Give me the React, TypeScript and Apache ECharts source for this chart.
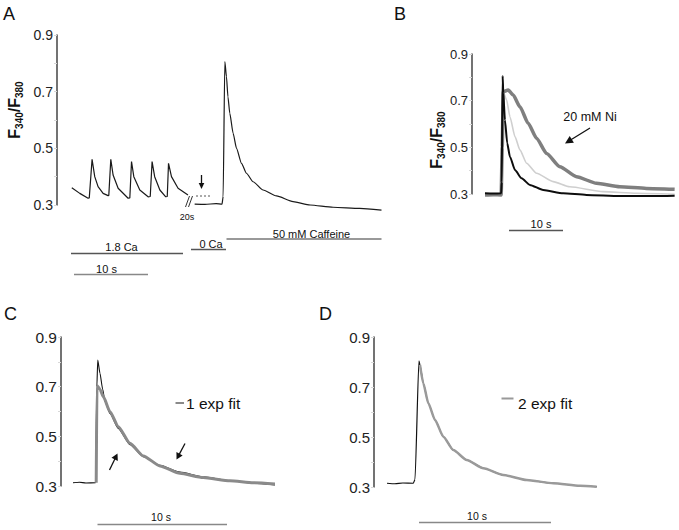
import React, { useEffect, useRef } from "react";
import * as echarts from "echarts";

// ---- Data (time in s, ratio F340/F380) ----
// Panel A: segment before break (1.8 Ca pacing) and after break (0 Ca + caffeine)
const aPacing: number[][] = [
  [0, 0.361], [1.08, 0.341], [2.2, 0.324], [2.36, 0.325], [2.74, 0.461], [3.1, 0.4], [3.55, 0.365],
  [4.23, 0.341], [4.9, 0.333], [5.0, 0.334], [5.27, 0.461], [5.58, 0.406], [6.26, 0.359], [7.61, 0.324],
  [7.84, 0.325], [8.07, 0.453], [8.38, 0.4], [9.19, 0.353], [10.31, 0.329], [10.6, 0.33], [10.85, 0.453],
  [11.2, 0.4], [11.9, 0.353], [12.7, 0.329], [12.9, 0.33], [13.07, 0.447], [13.47, 0.4], [14.36, 0.359],
  [15.7, 0.335],
];
const aCaffeine: number[][] = [
  [16.6, 0.303], [18.0, 0.302], [19.5, 0.305], [20.3, 0.303], [20.45, 0.33], [20.68, 0.806], [20.9, 0.753],
  [21.1, 0.682], [21.35, 0.624], [21.8, 0.553], [22.26, 0.5], [22.93, 0.447], [23.6, 0.412], [24.5, 0.382],
  [25.85, 0.353], [27.66, 0.332], [29.9, 0.312], [32.2, 0.3], [35.3, 0.292], [38.9, 0.288], [41.85, 0.282],
];
// Panel B
const bControl: number[][] = [
  [0, 0.303], [1.5, 0.302], [3.0, 0.303], [3.1, 0.35], [3.28, 0.806], [3.39, 0.732], [3.7, 0.617],
  [4.13, 0.517], [4.63, 0.46], [5.56, 0.403], [6.8, 0.367], [8.33, 0.339], [10.8, 0.317], [14.5, 0.303],
  [18.83, 0.296], [25, 0.291], [31.17, 0.291], [35.19, 0.293],
];
const bMid: number[][] = [
  [0, 0.298], [3.0, 0.298], [3.2, 0.5], [3.39, 0.738], [4.02, 0.703], [4.63, 0.631], [5.56, 0.546],
  [6.48, 0.489], [7.72, 0.432], [9.57, 0.389], [12.65, 0.353], [15.74, 0.331], [21.9, 0.31], [28.1, 0.303],
  [35.19, 0.299],
];
const bNi: number[][] = [
  [0, 0.296], [1.5, 0.297], [3.0, 0.296], [3.2, 0.5], [3.39, 0.738], [4.31, 0.746], [5.24, 0.724],
  [6.48, 0.674], [8.02, 0.603], [9.57, 0.539], [11.43, 0.474], [13.89, 0.417], [16.98, 0.374],
  [20.69, 0.346], [25, 0.331], [29.94, 0.324], [35.19, 0.32],
];
// Panel C
const cTrace: number[][] = [
  [0, 0.313], [0.5, 0.315], [1.0, 0.312], [1.75, 0.313], [1.85, 0.7], [1.92, 0.807], [2.09, 0.754],
  [2.3, 0.69], [2.48, 0.64], [2.87, 0.592], [3.51, 0.532], [4.42, 0.466], [5.45, 0.418], [6.74, 0.383],
  [8.29, 0.356], [10.1, 0.337], [12.17, 0.322], [13.98, 0.311], [15.66, 0.304],
];
const cFit1: number[][] = [
  [1.8, 0.313], [1.86, 0.705], [2.09, 0.69], [2.35, 0.66], [2.87, 0.599], [3.51, 0.539], [4.42, 0.472],
  [5.45, 0.421], [6.74, 0.381], [8.29, 0.351], [10.1, 0.334], [12.17, 0.321], [13.98, 0.313], [15.66, 0.308],
];
// Panel D
const dTrace: number[][] = [
  [0, 0.315], [0.6, 0.313], [1.2, 0.316], [1.99, 0.315], [2.12, 0.33], [2.42, 0.805], [2.5, 0.788],
  [2.75, 0.715], [3.13, 0.635], [3.64, 0.568], [4.27, 0.501], [5.02, 0.448], [6.04, 0.408], [7.3, 0.375],
  [8.81, 0.348], [10.58, 0.328], [12.6, 0.315], [14.62, 0.305], [15.89, 0.301],
];
const dFit2: number[][] = [
  [2.5, 0.788], [2.75, 0.715], [3.13, 0.635], [3.64, 0.568], [4.27, 0.501], [5.02, 0.448], [6.04, 0.408],
  [7.3, 0.375], [8.81, 0.348], [10.58, 0.328], [12.6, 0.315], [14.62, 0.305], [15.89, 0.301],
];
const yTickLabels = ["0.3", "0.5", "0.7", "0.9"];

const FONT = "Liberation Sans, Arial, Helvetica, sans-serif";

function arrow(x1: number, y1: number, x2: number, y2: number, hl: number, hw: number, lw: number, color: string) {
  const dx = x2 - x1, dy = y2 - y1;
  const L = Math.hypot(dx, dy);
  const ux = dx / L, uy = dy / L;
  const bx = x2 - ux * hl, by = y2 - uy * hl;
  const px = -uy * hw, py = ux * hw;
  return [
    { type: "line", shape: { x1, y1, x2: bx + ux * 1, y2: by + uy * 1 }, style: { stroke: color, lineWidth: lw } },
    { type: "polygon", shape: { points: [[x2, y2], [bx + px, by + py], [bx - px, by - py]] }, style: { fill: color } },
  ];
}
function hline(x1: number, x2: number, y: number, color: string, w: number) {
  return { type: "line", shape: { x1, y1: y, x2, y2: y }, style: { stroke: color, lineWidth: w } };
}
function txt(x: number, y: number, text: string, size: number, align = "center", extra: any = {}) {
  return {
    type: "text", x, y,
    style: { text, fontSize: size, fontFamily: FONT, fill: "#111", align, verticalAlign: "middle", ...extra },
  };
}
function yTitle(x: number, y: number) {
  return {
    type: "text", x, y, rotation: Math.PI / 2,
    style: {
      text: "{b|F}{s|340}{b|/F}{s|380}",
      align: "center", verticalAlign: "middle",
      rich: {
        b: { fontSize: 16, fontWeight: "bold", fontFamily: FONT, fill: "#111", lineHeight: 20 },
        s: { fontSize: 10, fontWeight: "bold", fontFamily: FONT, fill: "#111", lineHeight: 11, verticalAlign: "bottom" },
      },
    },
  };
}

function yAxis(gridIndex: number, fontSize: number) {
  return {
    type: "value", gridIndex, min: 0.3, max: 0.9, interval: 0.1,
    axisLine: { show: true, onZero: false, lineStyle: { color: "#444", width: 1.5 } },
    axisTick: { show: true, length: 3, lineStyle: { color: "#d8d8d8" } },
    splitLine: { show: false },
    axisLabel: {
      fontSize, fontFamily: FONT, color: "#222", margin: 4,
      formatter: (v: number) => {
        const s = v.toFixed(1);
        return yTickLabels.indexOf(s) >= 0 ? s : "";
      },
    },
  };
}
function xAxis(gridIndex: number, min: number, max: number) {
  return { type: "value", gridIndex, min, max, show: false };
}
function line(xi: number, data: number[][], color: string, width: number, z = 2, smooth: any = false) {
  return {
    type: "line", xAxisIndex: xi, yAxisIndex: xi, data, symbol: "none", showSymbol: false,
    clip: false, silent: true, z, smooth, smoothMonotone: "x",
    lineStyle: { color, width },
  };
}

export default function App() {
  const ref = useRef<HTMLDivElement>(null);
  useEffect(() => {
    if (!ref.current) return;
    const chart = echarts.init(ref.current, undefined, { renderer: "svg" });
    const graphic: any[] = [
      // panel letters
      { type: "text", x: 3, y: 5, style: { text: "A", fontSize: 18, fontFamily: FONT, fill: "#111" } },
      { type: "text", x: 394, y: 5, style: { text: "B", fontSize: 18, fontFamily: FONT, fill: "#111" } },
      { type: "text", x: 4, y: 305, style: { text: "C", fontSize: 18, fontFamily: FONT, fill: "#111" } },
      { type: "text", x: 319, y: 305, style: { text: "D", fontSize: 18, fontFamily: FONT, fill: "#111" } },
      yTitle(14, 110),
      yTitle(436, 140),
      // panel A annotations
      { type: "line", shape: { x1: 185.5, y1: 207, x2: 189.5, y2: 196 }, style: { stroke: "#333", lineWidth: 1 } },
      { type: "line", shape: { x1: 188.5, y1: 207, x2: 192.5, y2: 196 }, style: { stroke: "#333", lineWidth: 1 } },
      txt(187, 216.5, "20s", 9),
      { type: "line", shape: { x1: 196, y1: 196, x2: 212, y2: 196 }, style: { stroke: "#555", lineWidth: 1, lineDash: [2, 2] } },
      ...arrow(201.5, 175, 201.5, 189, 6, 2.8, 1.3, "#111"),
      hline(71, 183, 253.5, "#555", 1.3),
      txt(121.5, 247, "1.8 Ca", 11),
      hline(191, 226, 249.5, "#555", 1.3),
      txt(211, 244, "0 Ca", 11),
      hline(226.5, 381.5, 239, "#777", 1.3),
      txt(311.5, 233.5, "50 mM Caffeine", 11),
      hline(74, 148, 274.5, "#888", 1.3),
      txt(106.5, 269, "10 s", 11),
      // panel B annotations
      txt(590, 117, "20 mM Ni", 12.5),
      ...arrow(590, 128, 565, 143.5, 8, 4, 1.3, "#111"),
      hline(509, 563, 230.5, "#555", 1.3),
      txt(541, 224, "10 s", 11),
      // panel C annotations
      hline(175.5, 184, 403, "#8a8a8a", 2),
      txt(186, 403.5, "1 exp fit", 15.5, "left"),
      ...arrow(109.5, 470, 117.5, 453.5, 6.5, 3.5, 1.3, "#111"),
      ...arrow(185, 443.5, 176.5, 459.5, 6.5, 3.5, 1.3, "#111"),
      hline(97.5, 227, 524.5, "#888", 1.5),
      txt(161, 516.5, "10 s", 10.5),
      // panel D annotations
      hline(501.5, 513.5, 398.5, "#999", 2),
      txt(518, 403.5, "2 exp fit", 15.5, "left"),
      hline(419, 551, 522.5, "#888", 1.5),
      txt(477, 516, "10 s", 10.5),
    ];

    chart.setOption({
      animation: false,
      backgroundColor: "#ffffff",
      grid: [
        { left: 57, top: 35, width: 325.6, height: 170 },
        { left: 472, top: 54, width: 207.4, height: 140 },
        { left: 61, top: 337, width: 224.8, height: 149 },
        { left: 374, top: 337, width: 230.8, height: 150 },
      ],
      xAxis: [xAxis(0, -2, 42), xAxis(1, -2.41, 36), xAxis(2, -0.93, 16.5), xAxis(3, -0.985, 16.5)],
      yAxis: [yAxis(0, 14), yAxis(1, 13), yAxis(2, 15.5), yAxis(3, 15)],
      series: [
        line(0, aPacing, "#1a1a1a", 1.2),
        line(0, aCaffeine, "#1a1a1a", 1.2, 2, 0.2),
        line(1, bMid, "#cfcfcf", 1.6, 2, 0.2),
        line(1, bNi, "#7f7f7f", 3.5, 3, 0.2),
        line(1, bControl, "#0d0d0d", 2, 4, 0.2),
        line(2, cTrace, "#111", 1.1, 2, 0.2),
        line(2, cFit1, "#8a8a8a", 3, 3, 0.2),
        line(3, dTrace, "#111", 1.2, 2, 0.2),
        line(3, dFit2, "#9a9a9a", 2.5, 3, 0.2),
      ],
      graphic,
    });
    return () => chart.dispose();
  }, []);
  return (
    <div
      ref={ref}
      style={{ position: "fixed", left: 0, top: 0, width: 679, height: 530, background: "#fff" }}
    />
  );
}
